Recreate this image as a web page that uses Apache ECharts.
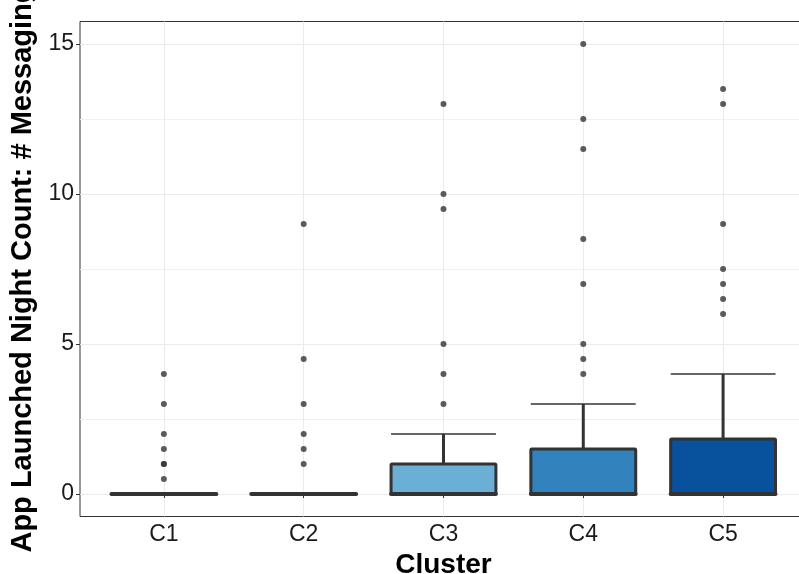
<!DOCTYPE html>
<html>
<head>
<meta charset="utf-8">
<script src="https://cdn.jsdelivr.net/npm/echarts@6/dist/echarts.min.js"></script>
<style>html,body{margin:0;padding:0;background:#fff;}#c{width:799px;height:574px;}</style>
</head>
<body>
<div id="c"></div>
<script>
const categories = ['C1', 'C2', 'C3', 'C4', 'C5'];
const boxMin    = [0, 0, 0, 0, 0];
const boxQ1     = [0, 0, 0, 0, 0];
const boxMedian = [0, 0, 0, 0, 0];
const boxQ3     = [0, 0, 1, 1.5, 1.83];
const boxMax    = [0, 0, 2, 3, 4];
const outliersC1 = [0.5, 1, 1, 1.5, 2, 3, 4];
const outliersC2 = [1, 1.5, 2, 3, 4.5, 9];
const outliersC3 = [3, 4, 5, 9.5, 10, 13];
const outliersC4 = [4, 4.5, 5, 7, 8.5, 11.5, 12.5, 15];
const outliersC5 = [6, 6.5, 7, 7.5, 9, 13, 13.5];
const yTickLabels = [0, 5, 10, 15];
const yMinorLines = [2.5, 7.5, 12.5];

const palette = ['#eff3ff', '#bdd7e7', '#6baed6', '#3182bd', '#08519c'];
const FONT = "'Liberation Sans', Arial, Helvetica, sans-serif";

const boxData = categories.map((c, i) => [i, boxMin[i], boxQ1[i], boxMedian[i], boxQ3[i], boxMax[i]]);
const outlierGroups = [outliersC1, outliersC2, outliersC3, outliersC4, outliersC5];
const outlierData = [];
outlierGroups.forEach((arr, i) => arr.forEach(v => outlierData.push([i, v])));

const chart = echarts.init(document.getElementById('c'), null, {renderer: 'canvas'});
const gridTop = 21.5, gridH = 495, gridLeft = 80, band = 139.8;

chart.setOption({
  animation: false,
  backgroundColor: '#ffffff',
  grid: [
    {left: gridLeft, top: gridTop, width: band * 5.2, height: gridH, show: true, borderColor: '#333333', borderWidth: 1, backgroundColor: 'transparent', containLabel: false, outerBoundsMode: 'none'},
    {left: gridLeft + band * 0.1, top: gridTop, width: band * 5, height: gridH, show: false, containLabel: false, outerBoundsMode: 'none'}
  ],
  xAxis: [
    {
      type: 'value', gridIndex: 0, min: 0.4, max: 5.6,
      axisLine: {show: false},
      axisTick: {show: true, customValues: [1, 2, 3, 4, 5], length: 4, lineStyle: {color: '#333', width: 1}},
      axisLabel: {customValues: [1, 2, 3, 4, 5], formatter: v => categories[Math.round(v) - 1], fontSize: 23, color: '#1a1a1a', fontFamily: FONT, margin: 7},
      splitLine: {show: true, lineStyle: {color: '#ebebeb', width: 1}},
      name: 'Cluster', nameLocation: 'middle', nameGap: 28,
      nameTextStyle: {fontSize: 28, fontWeight: 'bold', color: '#000', fontFamily: FONT}
    },
    {type: 'category', gridIndex: 1, data: categories, show: false, boundaryGap: true}
  ],
  yAxis: [
    {
      type: 'value', gridIndex: 0, min: -0.75, max: 15.75,
      axisLine: {show: false},
      axisTick: {show: true, customValues: yTickLabels, length: 4, lineStyle: {color: '#333', width: 1}},
      axisLabel: {customValues: yTickLabels, fontSize: 23, color: '#1a1a1a', fontFamily: FONT, margin: 6},
      splitLine: {show: true, lineStyle: {color: '#ebebeb', width: 1}},
      name: 'App Launched Night Count: # Messaging', nameLocation: 'middle', nameGap: 26,
      nameTextStyle: {fontSize: 29, fontWeight: 'bold', color: '#000', fontFamily: FONT}
    },
    {
      type: 'value', gridIndex: 0, min: -0.75, max: 15.75, position: 'left',
      axisLine: {show: false},
      axisTick: {show: false, customValues: yMinorLines},
      axisLabel: {show: false},
      splitLine: {show: true, lineStyle: {color: '#f0f0f0', width: 1}}
    },
    {type: 'value', gridIndex: 1, min: -0.75, max: 15.75, show: false}
  ],
  series: [
    {
      type: 'custom', xAxisIndex: 1, yAxisIndex: 2, data: boxData, z: 3,
      renderItem: function (params, api) {
        const idx = api.value(0);
        const pMin = api.coord([idx, api.value(1)]);
        const pQ1 = api.coord([idx, api.value(2)]);
        const pMed = api.coord([idx, api.value(3)]);
        const pQ3 = api.coord([idx, api.value(4)]);
        const pMax = api.coord([idx, api.value(5)]);
        const bw = api.size([1, 0])[0] * 0.75;
        const cx = pMed[0];
        const x0 = cx - bw / 2;
        const stroke = '#333333';
        return {
          type: 'group',
          children: [
            {type: 'line', shape: {x1: cx, y1: pQ3[1], x2: cx, y2: pMax[1]}, style: {stroke: stroke, lineWidth: 3}},
            {type: 'line', shape: {x1: cx, y1: pQ1[1], x2: cx, y2: pMin[1]}, style: {stroke: stroke, lineWidth: 3}},
            {type: 'line', shape: {x1: x0, y1: pMax[1], x2: x0 + bw, y2: pMax[1]}, style: {stroke: stroke, lineWidth: 1.5}},
            {type: 'line', shape: {x1: x0, y1: pMin[1], x2: x0 + bw, y2: pMin[1]}, style: {stroke: stroke, lineWidth: 1.5}},
            {type: 'rect', shape: {x: x0, y: pQ3[1], width: bw, height: pQ1[1] - pQ3[1], r: 1}, style: {fill: palette[idx], stroke: stroke, lineWidth: 3, lineJoin: 'round'}},
            {type: 'line', shape: {x1: x0, y1: pMed[1], x2: x0 + bw, y2: pMed[1]}, style: {stroke: stroke, lineWidth: 4, lineCap: 'round'}}
          ]
        };
      }
    },
    {
      type: 'scatter', xAxisIndex: 1, yAxisIndex: 2, data: outlierData, z: 4,
      symbol: 'circle', symbolSize: 6,
      itemStyle: {color: '#333333'}
    }
  ]
});
</script>
</body>
</html>
